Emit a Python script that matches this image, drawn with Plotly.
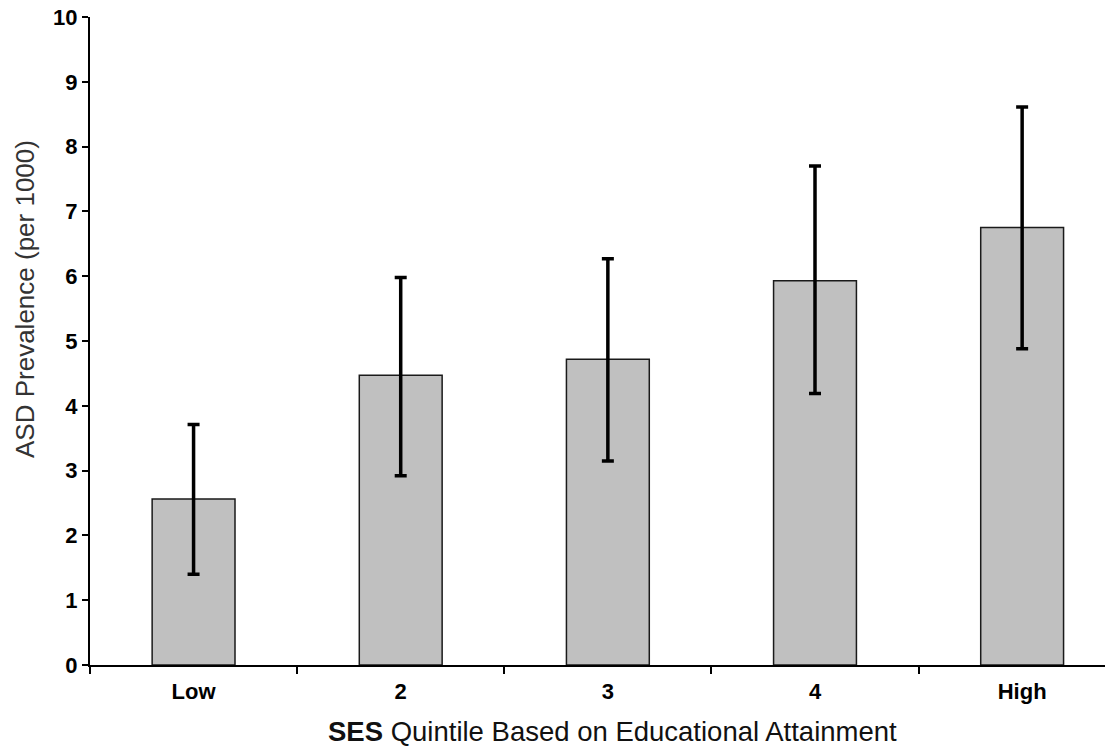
import plotly.graph_objects as go

categories = ["Low", "2", "3", "4", "High"]
prevalence = [2.56, 4.47, 4.72, 5.93, 6.75]
ci_upper = [3.71, 5.98, 6.27, 7.70, 8.61]
ci_lower = [1.40, 2.92, 3.15, 4.19, 4.88]
y_ticks = [0, 1, 2, 3, 4, 5, 6, 7, 8, 9, 10]

err_plus = [u - v for u, v in zip(ci_upper, prevalence)]
err_minus = [v - l for v, l in zip(prevalence, ci_lower)]

fig = go.Figure()
fig.add_trace(go.Bar(
    x=categories,
    y=prevalence,
    width=0.4,
    marker=dict(color="#C0C0C0", line=dict(color="#1a1a1a", width=1.5)),
    error_y=dict(type="data", symmetric=False, array=err_plus, arrayminus=err_minus,
                 color="black", thickness=3.5, width=6),
    hoverinfo="skip",
))

fig.update_layout(
    width=1105, height=750,
    margin=dict(l=90, r=0, t=17, b=85),
    paper_bgcolor="white", plot_bgcolor="white",
    showlegend=False,
    font=dict(family="Liberation Sans, Arial, sans-serif", color="black"),
    xaxis=dict(
        type="category",
        range=[-0.5, 4.4],
        showline=True, linecolor="black", linewidth=2,
        ticks="outside", tickson="boundaries", ticklen=7, tickwidth=1.5, tickcolor="black",
        tickfont=dict(size=22, weight=700, color="black"),
        ticklabelstandoff=6,
        showgrid=False, zeroline=False,
    ),
    yaxis=dict(
        range=[0, 10],
        tickvals=y_ticks,
        showline=True, linecolor="black", linewidth=2,
        ticks="outside", ticklen=6, tickwidth=1.5, tickcolor="black",
        tickfont=dict(size=22, weight=700, color="black"),
        showgrid=False, zeroline=False,
    ),
    annotations=[
        dict(
            text="ASD Prevalence (per 1000)",
            textangle=-90,
            xref="paper", yref="paper",
            x=0, y=(750 - 299 - 85) / (750 - 17 - 85),
            xanchor="center", yanchor="middle",
            xshift=25 - 90,
            showarrow=False,
            font=dict(size=26, color="#333"),
        ),
        dict(
            text="<b>SES</b> Quintile Based on Educational Attainment",
            xref="paper", yref="paper",
            x=(612 - 90) / (1105 - 90), y=0,
            xanchor="center", yanchor="middle",
            yshift=-(731 - 665),
            showarrow=False, borderpad=0,
            font=dict(size=27.5, color="#111"),
        ),
    ],
)

fig.write_html("out.html")
